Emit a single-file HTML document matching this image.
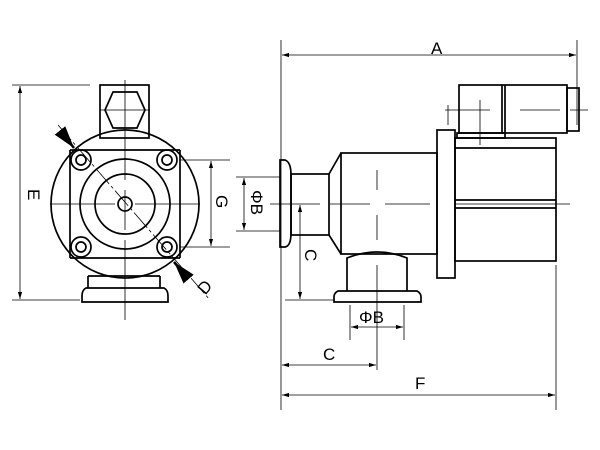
<!DOCTYPE html>
<html><head><style>body{margin:0;background:#fff}svg{display:block}</style></head><body>
<svg width="600" height="450" viewBox="0 0 600 450" xmlns="http://www.w3.org/2000/svg" font-family="Liberation Sans, sans-serif">
<defs>
<marker id="a" viewBox="0 0 10 10" refX="10" refY="5" markerWidth="9" markerHeight="9" orient="auto-start-reverse"><path d="M0,2 L10,5 L0,8 z" fill="#000"/></marker>
</defs>
<g fill="none" stroke="#000" stroke-width="1.7">
<circle cx="125" cy="204" r="74"/>
<rect x="100" y="85" width="49" height="53"/>
<polygon points="113,92 137,92 145,110 137,128 113,128 105,110"/>
<path d="M70,150 L180,150 M70,258 L180,258 M70,150 L70,258 M180,150 L180,258"/>
<circle cx="125" cy="204" r="45"/>
<circle cx="125" cy="204" r="30"/>
<circle cx="125" cy="204" r="7"/>
<circle cx="81" cy="160" r="10"/><circle cx="81" cy="160" r="5"/>
<circle cx="167" cy="160" r="10"/><circle cx="167" cy="160" r="5"/>
<circle cx="81" cy="247" r="10"/><circle cx="81" cy="247" r="5"/>
<circle cx="167" cy="247" r="10"/><circle cx="167" cy="247" r="5"/>
<path d="M88,276 L160,276 M88,276 L88,288 M160,276 L160,288"/>
<path d="M86,288 L164,288 Q168,290 168,296 L168,302 L82,302 L82,296 Q82,290 86,288 Z"/>
<path d="M285,160 Q291,162 291,175 L291,233 Q291,246 285,247 L280,247 L280,160 Z"/>
<rect x="291" y="174" width="38" height="61"/>
<path d="M329,174 L341,153 M329,235 L341,254"/>
<rect x="341" y="153" width="96" height="101"/>
<rect x="437" y="130" width="18" height="148"/>
<rect x="455" y="138" width="101" height="123"/>
<path d="M455,148 L556,148 M455,200 L556,200 M455,208 L556,208"/>
<rect x="459" y="85" width="108" height="48"/>
<path d="M502,85 L502,133 M505,85 L505,133"/>
<rect x="567" y="88" width="12" height="43"/>
<rect x="457" y="133" width="48" height="5"/>
<path d="M347,291 L347,258 Q377,246 407,258 L407,291"/>
<path d="M338,291 L417,291 Q421,293 421,297 L421,302 L334,302 L334,297 Q334,293 338,291 Z"/>
</g>
<g fill="none" stroke="#000" stroke-width="0.8">
<path d="M58,125 L210,300" stroke-dasharray="20,3,3,3"/>
<path d="M125,80 L125,140 M100,110 L150,110 M125,140 L125,180 M125,190 L125,230 M125,240 L125,320 M50,204 L115,204 M135,204 L200,204"/>
<path d="M270,204 L320,204 M330,204 L370,204 M385,204 L430,204 M455,204 L570,204 M377,170 L377,190 M377,215 L377,240 M377,265 L377,320"/>
<path d="M448,125 L448,105 M480,100 L480,145 M445,110 L490,110 M520,110 L560,110 M570,110 L588,110"/>
<path d="M12,85 L90,85 M12,300 L80,300"/>
<path d="M20,86 L20,299" marker-start="url(#a)" marker-end="url(#a)"/>
<path d="M180,160 L230,160 M180,247 L230,247"/>
<path d="M211,161 L211,246" marker-start="url(#a)" marker-end="url(#a)"/>
<path d="M236,177 L280,177 M236,231 L280,231"/>
<path d="M244,178 L244,230" marker-start="url(#a)" marker-end="url(#a)"/>
<path d="M300,205 L300,299" marker-start="url(#a)" marker-end="url(#a)"/>
<path d="M285,300 L335,300"/>
<path d="M281,40 L281,410 M577,40 L577,125 M556,265 L556,410 M350,305 L350,340 M404,305 L404,340 M377,320 L377,370"/>
<path d="M282,55 L576,55" marker-start="url(#a)" marker-end="url(#a)"/>
<path d="M282,395 L555,395" marker-start="url(#a)" marker-end="url(#a)"/>
<path d="M282,365 L376,365" marker-start="url(#a)" marker-end="url(#a)"/>
<path d="M351,327 L403,327" marker-start="url(#a)" marker-end="url(#a)"/>
<path d="M62,133 L74,148" stroke-width="2.5" marker-end="url(#a)"/>
<path d="M186,276 L174,262" stroke-width="2.5" marker-end="url(#a)"/>
</g>
<g font-size="17" fill="#000">
<text x="431" y="54">A</text>
<text x="415" y="389">F</text>
<text x="323" y="360">C</text>
<text x="359" y="323">ΦB</text>
<text x="197" y="292" transform="rotate(-50 205 285)">D</text>
<text transform="translate(28,189) rotate(90)">E</text>
<text transform="translate(216,195) rotate(90)">G</text>
<text transform="translate(251,190) rotate(90)">ΦB</text>
<text transform="translate(305,249) rotate(90)">C</text>
</g>
</svg>
</body></html>
